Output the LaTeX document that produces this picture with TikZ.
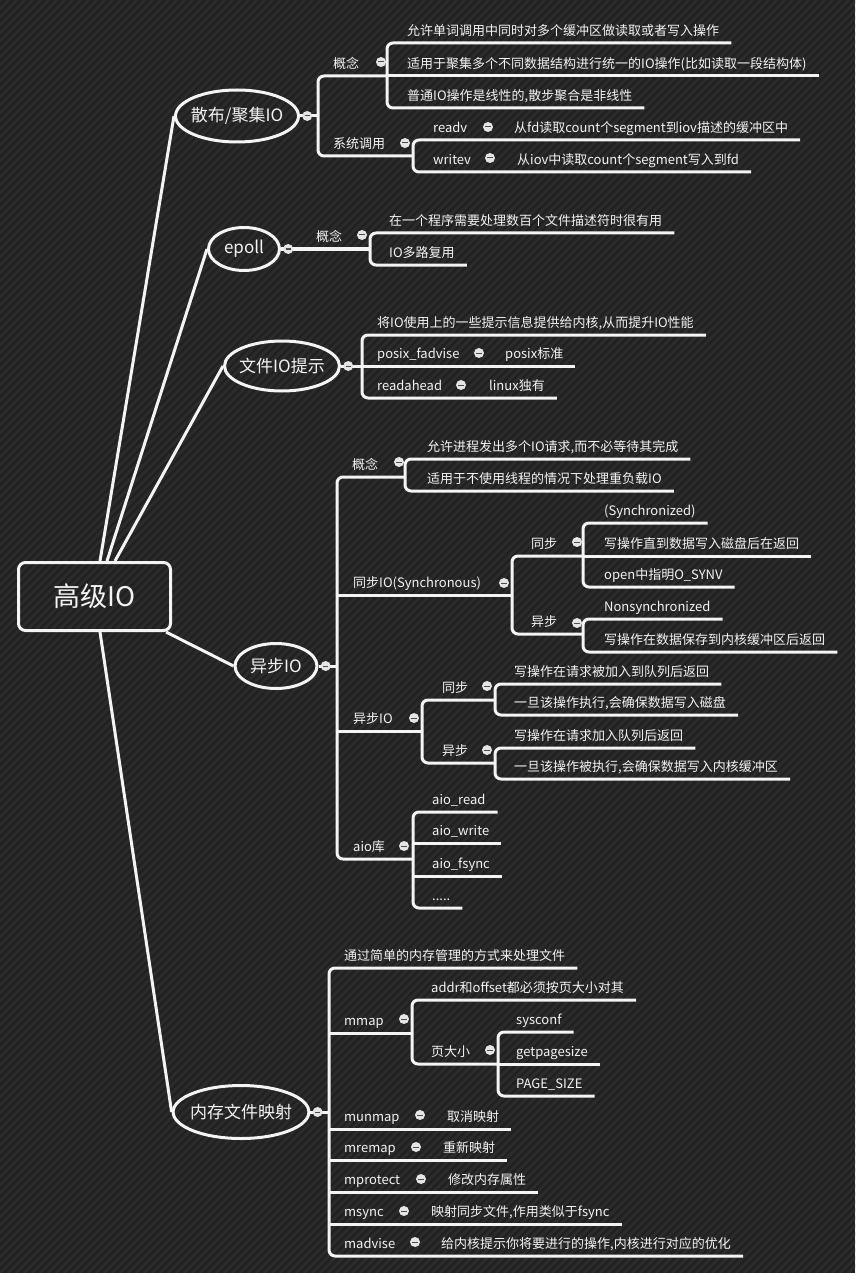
\documentclass[tikz,border=0pt]{standalone}
\usepackage{fontspec}
\setmainfont{Noto Sans CJK SC}
\usepackage{xcolor}
\usepackage{tikz}
\usetikzlibrary{positioning, calc, shapes}
\definecolor{bgdark}{HTML}{202020}
\definecolor{bgstripe}{HTML}{2B2B2B}
\definecolor{inkwhite}{HTML}{F4F4F4}

\begin{document}
\begin{tikzpicture}[x=1pt, y=-1pt,
    every node/.style={text=inkwhite},
    branch/.style={draw=inkwhite, line width=3pt, rounded corners=6pt},
    leaf/.style={anchor=south west, font=\fontsize{13}{15}\selectfont,
                 inner xsep=12pt, inner ysep=5.5pt, text height=10pt, text depth=2pt},
    topic/.style={ellipse, draw=inkwhite, line width=3pt, inner xsep=-3pt, inner ysep=0pt,
                  font=\fontsize{17}{20}\selectfont},
    fold/.style={circle, fill=gray!20, minimum size=10pt, inner sep=0pt,
                 path picture={\draw[gray!60!black, line width=1pt]
                   ([xshift=-2.6pt]path picture bounding box.center) --
                   ([xshift=2.6pt]path picture bounding box.center);}}]
    \useasboundingbox (0,0) rectangle (855,1273);

    % Background
    \fill[bgdark] (0,0) rectangle (855,1273);
    \begin{scope}
        \clip (0,0) rectangle (855,1273);
        \foreach \s in {-1280,-1272,...,860}
            \draw[bgstripe, line width=3pt] (\s,1273) -- ++(1273,-1273);
    \end{scope}

    % Level 0
    \node[draw=inkwhite, line width=3pt, rounded corners=7pt, minimum width=152pt,
          minimum height=68pt, font=\fontsize{27}{30}\selectfont] (root) at (94.5,596.5) {高级IO};

    % Level 1
    \node[topic, minimum width=123pt, minimum height=52pt] (e1) at (237,116) {散布/聚集IO};
    \node[topic, minimum width=71pt, minimum height=43pt] (e2) at (244,249) {epoll};
    \node[topic, minimum width=115pt, minimum height=50pt] (e3) at (282,366) {文件IO提示};
    \node[topic, minimum width=82pt, minimum height=45pt] (e4) at (276,666) {异步IO};
    \node[topic, minimum width=134pt, minimum height=53pt] (e5) at (241,1112) {内存文件映射};
    \draw[branch] ($(root.north)+(5.5,0)$) -- (e1.west);
    \draw[branch] ($(root.north)+(12.5,0)$) -- (e2.west);
    \draw[branch] ($(root.north)+(20.5,0)$) -- (e3.west);
    \draw[branch] ($(root.south east)+(-6,0)$) -- (e4.west);
    \draw[branch] ($(root.south)+(5.5,0)$) -- (e5.west);

    % 散布/聚集IO
    \coordinate (jA) at (318,116);
    \coordinate (jB) at (387,76);
    \coordinate (jC) at (413,156);
    \node[leaf] (a1) at (321,76) {概念};
    \node[leaf] (a11) at (395,43) {允许单词调用中同时对多个缓冲区做读取或者写入操作};
    \node[leaf] (a12) at (395,76) {适用于聚集多个不同数据结构进行统一的IO操作(比如读取一段结构体)};
    \node[leaf] (a13) at (395,108) {普通IO操作是线性的,散步聚合是非线性};
    \node[leaf] (a2) at (321,156) {系统调用};
    \node[leaf] (a21) at (421,140) {readv};
    \node[leaf] (a21c) at (502,140) {从fd读取count个segment到iov描述的缓冲区中};
    \node[leaf] (a22) at (421,172) {writev};
    \node[leaf] (a22c) at (505,172) {从iov中读取count个segment写入到fd};
    \draw[branch] (e1.east) -- (jA);
    \draw[branch] (jB) -| (jA) |- (jC);
    \draw[branch] (a11.south east) -| (jB) |- (a13.south east);
    \draw[branch] (jB) -- (a12.south east);
    \draw[branch] (a21c.south east) -| (jC) |- (a22c.south east);

    % epoll
    \coordinate (jD) at (370,249);
    \node[leaf] (b1) at (304,249) {概念};
    \node[leaf] (b11) at (377,233) {在一个程序需要处理数百个文件描述符时很有用};
    \node[leaf] (b12) at (377,265) {IO多路复用};
    \draw[branch] (e2.east) -- (jD);
    \draw[branch] (b11.south east) -| (jD) |- (b12.south east);

    % 文件IO提示
    \coordinate (jE) at (362,366);
    \node[leaf] (c1) at (365,335) {将IO使用上的一些提示信息提供给内核,从而提升IO性能};
    \node[leaf] (c2) at (365,366) {posix\_fadvise};
    \node[leaf] (c2c) at (493,366) {posix标准};
    \node[leaf] (c3) at (365,398) {readahead};
    \node[leaf] (c3c) at (477,398) {linux独有};
    \draw[branch] (e3.east) -- (jE);
    \draw[branch] (c1.south east) -| (jE) |- (c3c.south east);
    \draw[branch] (jE) -- (c2c.south east);

    % 异步IO
    \coordinate (jF) at (337,666);
    \coordinate (jG) at (405,477);
    \coordinate (jH) at (512,595);
    \coordinate (jI) at (583,556);
    \coordinate (jJ) at (583,634);
    \coordinate (jK) at (422,731);
    \coordinate (jL) at (495,700);
    \coordinate (jM) at (495,763);
    \coordinate (jN) at (413,859);
    \node[leaf] (d1) at (340,477) {概念};
    \node[leaf] (d11) at (415,459) {允许进程发出多个IO请求,而不必等待其完成};
    \node[leaf] (d12) at (415,491) {适用于不使用线程的情况下处理重负载IO};
    \node[leaf] (d2) at (341,595) {同步IO(Synchronous)};
    \node[leaf] (d21) at (519,556) {同步};
    \node[leaf] (d211) at (592,523) {(Synchronized)};
    \node[leaf] (d212) at (592,556) {写操作直到数据写入磁盘后在返回};
    \node[leaf] (d213) at (592,587) {open中指明O\_SYNV};
    \node[leaf] (d22) at (519,634) {异步};
    \node[leaf] (d221) at (592,619) {Nonsynchronized};
    \node[leaf] (d222) at (592,652) {写操作在数据保存到内核缓冲区后返回};
    \node[leaf] (d3) at (341,731) {异步IO};
    \node[leaf] (d31) at (430,700) {同步};
    \node[leaf] (d311) at (502,684) {写操作在请求被加入到队列后返回};
    \node[leaf] (d312) at (502,715) {一旦该操作执行,会确保数据写入磁盘};
    \node[leaf] (d32) at (430,763) {异步};
    \node[leaf] (d321) at (502,748) {写操作在请求加入队列后返回};
    \node[leaf] (d322) at (502,779) {一旦该操作被执行,会确保数据写入内核缓冲区};
    \node[leaf] (d4) at (341,859) {aio库};
    \node[leaf] (d41) at (420,812) {aio\_read};
    \node[leaf] (d42) at (420,843) {aio\_write};
    \node[leaf] (d43) at (420,876) {aio\_fsync};
    \node[leaf] (d44) at (420,908) {.....};
    \draw[branch] (e4.east) -- (jF);
    \draw[branch] (jG) -| (jF) |- (jN);
    \draw[branch] (jF |- jH) -- (jH);
    \draw[branch] (jF |- jK) -- (jK);
    \draw[branch] (d11.south east) -| (jG) |- (d12.south east);
    \draw[branch] (jI) -| (jH) |- (jJ);
    \draw[branch] (d211.south east) -| (jI) |- (d213.south east);
    \draw[branch] (jI) -- (d212.south east);
    \draw[branch] (d221.south east) -| (jJ) |- (d222.south east);
    \draw[branch] (jL) -| (jK) |- (jM);
    \draw[branch] (d311.south east) -| (jL) |- (d312.south east);
    \draw[branch] (d321.south east) -| (jM) |- (d322.south east);
    \draw[branch] (d41.south east) -| (jN) |- (d44.south east);
    \draw[branch] (jN |- d42.south) -- (d42.south east);
    \draw[branch] (jN |- d43.south) -- (d43.south east);

    % 内存文件映射
    \coordinate (jO) at (329,1112);
    \coordinate (jP) at (412,1033);
    \coordinate (jQ) at (498,1064);
    \node[leaf] (f1) at (332,968) {通过简单的内存管理的方式来处理文件};
    \node[leaf] (f2) at (332,1033) {mmap};
    \node[leaf] (f21) at (419,1000) {addr和offset都必须按页大小对其};
    \node[leaf] (f22) at (419,1064) {页大小};
    \node[leaf] (f221) at (504,1032) {sysconf};
    \node[leaf] (f222) at (504,1064) {getpagesize};
    \node[leaf] (f223) at (504,1096) {PAGE\_SIZE};
    \node[leaf] (f3) at (332,1129) {munmap};
    \node[leaf] (f3c) at (435,1129) {取消映射};
    \node[leaf] (f4) at (332,1160) {mremap};
    \node[leaf] (f4c) at (431,1160) {重新映射};
    \node[leaf] (f5) at (332,1192) {mprotect};
    \node[leaf] (f5c) at (436,1192) {修改内存属性};
    \node[leaf] (f6) at (332,1224) {msync};
    \node[leaf] (f6c) at (419,1224) {映射同步文件,作用类似于fsync};
    \node[leaf] (f7) at (332,1256) {madvise};
    \node[leaf] (f7c) at (429,1256) {给内核提示你将要进行的操作,内核进行对应的优化};
    \draw[branch] (e5.east) -- (jO);
    \draw[branch] (f1.south east) -| (jO) |- (f7c.south east);
    \draw[branch] (jO |- f2.south) -- (jP);
    \draw[branch] (jO |- f3.south) -- (f3c.south east);
    \draw[branch] (jO |- f4.south) -- (f4c.south east);
    \draw[branch] (jO |- f5.south) -- (f5c.south east);
    \draw[branch] (jO |- f6.south) -- (f6c.south east);
    \draw[branch] (f21.south east) -| (jP) |- (jQ);
    \draw[branch] (f221.south east) -| (jQ) |- (f223.south east);
    \draw[branch] (jQ) -- (f222.south east);

    % Fold buttons
    \node[fold, right=2pt of e1] (e1f) {};
    \node[fold, right=2pt of e2] (e2f) {};
    \node[fold, right=2pt of e3] (e3f) {};
    \node[fold, right=2pt of e4] (e4f) {};
    \node[fold, right=2pt of e5] (e5f) {};
    \node[fold] (a1f) at (381,62) {};
    \node[fold] (a2f) at (405,143) {};
    \node[fold] (a21f) at (488,127) {};
    \node[fold] (a22f) at (490,158) {};
    \node[fold] (b1f) at (362,235) {};
    \node[fold] (c2f) at (479,353) {};
    \node[fold] (c3f) at (461,385) {};
    \node[fold] (d1f) at (399,462) {};
    \node[fold] (d2f) at (504,583) {};
    \node[fold] (d21f) at (577,542) {};
    \node[fold] (d22f) at (577,623) {};
    \node[fold] (d3f) at (414,718) {};
    \node[fold] (d31f) at (487,686) {};
    \node[fold] (d32f) at (487,750) {};
    \node[fold] (d4f) at (404,846) {};
    \node[fold] (f2f) at (404,1019) {};
    \node[fold] (f22f) at (490,1050) {};
    \node[fold] (f3f) at (420,1115) {};
    \node[fold] (f4f) at (416,1147) {};
    \node[fold] (f5f) at (421,1179) {};
    \node[fold] (f6f) at (404,1211) {};
    \node[fold] (f7f) at (415,1242) {};
\end{tikzpicture}
\end{document}
